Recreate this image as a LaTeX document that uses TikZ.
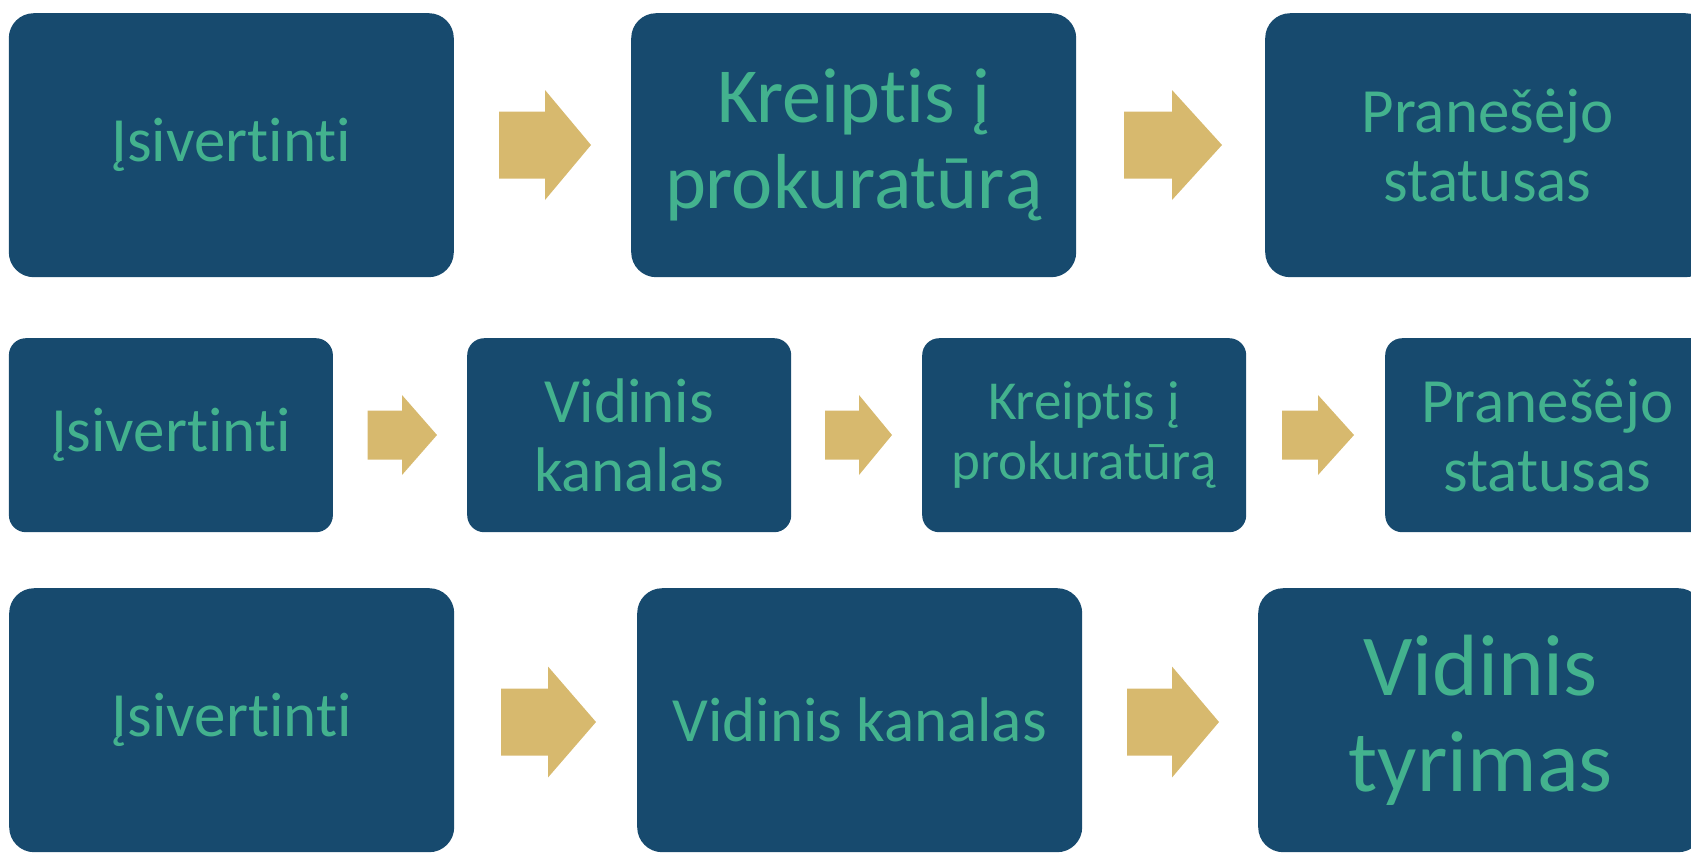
\documentclass[tikz,border=0pt]{standalone}
\usepackage{fontspec}
\setmainfont{Carlito}[Ligatures={NoCommon}]
\definecolor{boxblue}{RGB}{23,74,110}
\definecolor{txtgreen}{RGB}{67,178,142}
\definecolor{arrowgold}{RGB}{215,185,110}
\tikzset{
  stepbox/.style={rectangle, fill=boxblue, text=txtgreen, align=center, inner sep=0pt, anchor=north west},
  bigbox/.style={stepbox, rounded corners=25pt, minimum width=445pt, minimum height=264pt},
  smallbox/.style={stepbox, rounded corners=17pt, minimum width=324pt, minimum height=194pt},
  arrowfill/.style={fill=arrowgold},
}
% #1 shaft start x, #2 head base x, #3 tip x, #4 centre y, #5 half shaft, #6 half head
\newcommand{\blockarrow}[6]{%
  \fill[arrowfill] (#1,{#4-#5}) -- (#2,{#4-#5}) -- (#2,{#4-#6}) -- (#3,#4)
    -- (#2,{#4+#6}) -- (#2,{#4+#5}) -- (#1,{#4+#5}) -- cycle;}
\begin{document}
\begin{tikzpicture}[x=1pt,y=-1pt]
\useasboundingbox (0,0) rectangle (1691,852);
\clip (0,0) rectangle (1691,852);
% row 1
\node[bigbox, font=\fontsize{63}{69}\selectfont] (r1a) at (8.6,13) {Įsivertinti};
\node[bigbox, font=\fontsize{78}{86}\selectfont] (r1b) at (631,13) {Kreiptis į\\prokuratūrą};
\node[bigbox, font=\fontsize{63}{69}\selectfont] (r1c) at (1265,13) {Pranešėjo\\statusas};
\blockarrow{499}{545}{591}{145}{33.5}{55}
\blockarrow{1124}{1172}{1222}{145}{33.5}{55}
% row 2
\node[smallbox, font=\fontsize{63}{69}\selectfont] (r2a) at (8.7,338) {Įsivertinti};
\node[smallbox, font=\fontsize{63}{69}\selectfont] (r2b) at (467,338) {Vidinis\\kanalas};
\node[smallbox, font=\fontsize{55}{60}\selectfont] (r2c) at (922,338) {Kreiptis į\\prokuratūrą};
\node[smallbox, font=\fontsize{63}{69}\selectfont] (r2d) at (1385,338) {Pranešėjo\\statusas};
\blockarrow{367.5}{402}{437}{435}{24.5}{40}
\blockarrow{825}{859}{892}{435}{24.5}{40}
\blockarrow{1282}{1318}{1354}{435}{24.5}{40}
% row 3
\node[bigbox, font=\fontsize{63}{69}\selectfont] (r3a) at (9,588) {Įsivertinti};
\node[bigbox, font=\fontsize{63}{69}\selectfont] (r3b) at (637,588) {Vidinis kanalas};
\node[bigbox, font=\fontsize{87}{96}\selectfont] (r3c) at (1258,588) {Vidinis\\tyrimas};
\blockarrow{501}{548}{596}{722}{33.5}{55.5}
\blockarrow{1127}{1172}{1219}{722}{33.5}{55.5}
\end{tikzpicture}
\end{document}
